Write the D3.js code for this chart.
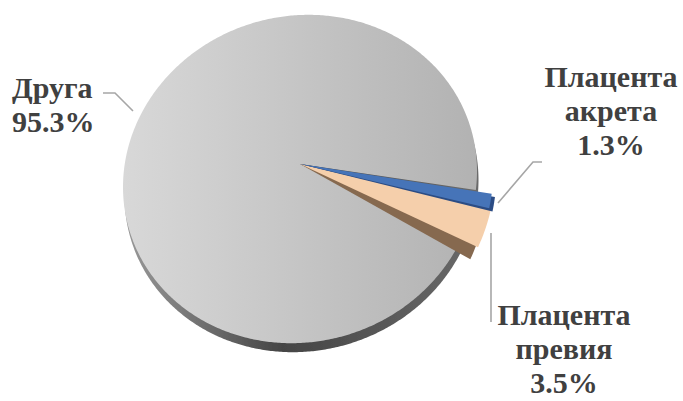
<!DOCTYPE html>
<html>
<head>
<meta charset="utf-8">
<script src="https://cdn.jsdelivr.net/npm/d3@7"></script>
<style>
  html, body { margin: 0; padding: 0; background: #ffffff; }
  svg { display: block; }
</style>
</head>
<body>
<svg id="chart" width="683" height="401"></svg>
<script>
// Share of cases by cause
const categories = ["Друга", "Плацента акрета", "Плацента превия"];
const values = [95.3, 1.3, 3.5];
const nameLines = [["Друга"], ["Плацента", "акрета"], ["Плацента", "превия"]];

const svg = d3.select("#chart");

// Tilted-disc projection: angle (0 = 12 o'clock, clockwise) and radius fraction -> screen
const cx = 300, cy = 164, rx = 177, A = 164, B = 15, C = 15, E = -8;
function proj(r, a) {
  const ux = Math.sin(a), uy = -Math.cos(a);
  const x = cx + rx * r * ux;
  const y = cy + r * A * uy + r * E * ux + r * r * (B * uy * uy + C * (1 - uy * uy));
  return [x, y];
}
const line = d3.line();
// wedge outline; (sx, sy) is a shift that grows with the radius (for side walls)
function wedge(a0, a1, r, sx = 0, sy = 0, dx = 0, dy = 0) {
  const n = Math.max(4, Math.ceil(Math.abs(a1 - a0) / 0.01));
  const pts = [proj(0, a0)];
  for (let i = 0; i <= n; i++) {
    const p = proj(r, a0 + (a1 - a0) * i / n);
    pts.push([p[0] + sx * r, p[1] + sy * r]);
  }
  return line(pts.map(p => [p[0] + dx, p[1] + dy])) + "Z";
}

const deg = Math.PI / 180;
const pie = d3.pie().sort(null).value(d => d)
  .startAngle(113.9 * deg).endAngle(113.9 * deg + 2 * Math.PI);
const arcs = pie(values);

const colors = ["url(#grayFace)", "#4674b8", "#f5cfab"];
const sideColors = [null, "#2b4c84", "#86694f"];
const sideShift = [null, [3, 3], [-7, 11]];
const outerR = [1, 1.09, 1.1];

const defs = svg.append("defs");
const gFace = defs.append("linearGradient").attr("id", "grayFace")
  .attr("gradientUnits", "userSpaceOnUse")
  .attr("x1", cx - rx).attr("y1", cy).attr("x2", cx + rx).attr("y2", cy);
gFace.append("stop").attr("offset", "0").attr("stop-color", "#d8d8d8");
gFace.append("stop").attr("offset", "1").attr("stop-color", "#b2b2b2");

const gRim = defs.append("linearGradient").attr("id", "rim")
  .attr("gradientUnits", "userSpaceOnUse")
  .attr("x1", cx - rx).attr("y1", 0).attr("x2", cx + rx).attr("y2", 0);
gRim.append("stop").attr("offset", "0").attr("stop-color", "#9a9a9a");
gRim.append("stop").attr("offset", "0.45").attr("stop-color", "#454545");
gRim.append("stop").attr("offset", "1").attr("stop-color", "#6a6a6a");

defs.append("filter").attr("id", "soft")
  .append("feGaussianBlur").attr("stdDeviation", 0.7);

// Disc thickness underneath the main slice
svg.append("path")
  .attr("d", wedge(arcs[0].startAngle, arcs[0].endAngle, 1, 0, 0, 1.5, 9))
  .attr("fill", "url(#rim)")
  .attr("filter", "url(#soft)");

// Main slice face
svg.append("path")
  .attr("d", wedge(arcs[0].startAngle, arcs[0].endAngle, 1))
  .attr("fill", colors[0]);

// Raised small slices: side wall first, then top face
[2, 1].forEach(i => {
  const a = arcs[i];
  svg.append("path")
    .attr("d", wedge(a.startAngle, a.endAngle, outerR[i], sideShift[i][0], sideShift[i][1]))
    .attr("fill", sideColors[i]);
  svg.append("path")
    .attr("d", wedge(a.startAngle, a.endAngle, outerR[i]))
    .attr("fill", colors[i]);
});

// Leader lines
const leader = svg.append("g")
  .attr("fill", "none").attr("stroke", "#a6a6a6").attr("stroke-width", 1.6);
leader.append("polyline").attr("points", "103,93 115,93 133,111");
leader.append("polyline").attr("points", "498,203 533,162 542,162");
leader.append("polyline").attr("points", "491,233 491,322");

// Data labels
const fmt = d3.format(".1f");
const labelPos = [
  { x: 12, y: 98, anchor: "start" },
  { x: 611, y: 87, anchor: "middle" },
  { x: 564, y: 325, anchor: "middle" }
];
const lh = 34;
categories.forEach((c, i) => {
  const lines = nameLines[i].concat([fmt(values[i]) + "%"]);
  const t = svg.append("text")
    .attr("x", labelPos[i].x).attr("y", labelPos[i].y)
    .attr("text-anchor", labelPos[i].anchor)
    .style("font-family", '"Liberation Serif"')
    .style("font-weight", "bold")
    .style("font-size", "30px")
    .style("fill", "#404040");
  lines.forEach((s, k) => {
    t.append("tspan").attr("x", labelPos[i].x).attr("dy", k === 0 ? 0 : lh).text(s);
  });
});
</script>
</body>
</html>
